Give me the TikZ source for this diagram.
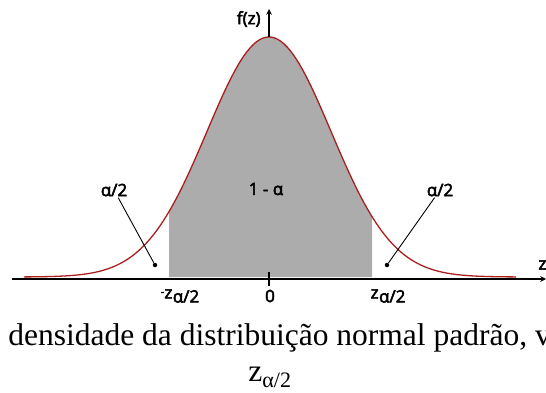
\documentclass[tikz,border=0pt]{standalone}
\usepackage{fontspec}
\setmainfont{Liberation Serif}
\newfontfamily\diagfont[FakeBold=3]{Open Sans}
\usepackage{tikz}
\usetikzlibrary{arrows,positioning,calc}
\definecolor{curvered}{RGB}{170,30,30}
\definecolor{areagray}{RGB}{172,172,172}
\newcommand{\zsub}{z\kern0.5pt\raisebox{-4pt}{α/2}}

\begin{document}
\begin{tikzpicture}[x=1pt, y=1pt, >=stealth, thick]
  \tikzstyle{lbl} = [font=\diagfont\fontsize{17}{19}\selectfont, inner sep=1pt]
  \tikzstyle{pointer} = [draw=black, line width=0.9pt]
  \tikzstyle{dot} = [circle, fill=black, inner sep=0pt, minimum size=4.5pt]
  \tikzstyle{caption} = [font=\fontsize{31.5}{34}\selectfont, inner sep=0pt]

  \useasboundingbox (0,0) rectangle (546,392);
  \clip (0,0) rectangle (546,392);

  % shaded area 1 - alpha
  \fill[areagray] (169,115) -- plot[domain=169:372, samples=80] (\x, {115 + 240*exp(-((\x-269)/62)^2/2)}) -- (372,115) -- cycle;
  % density curve
  \draw[curvered, line width=1.3pt] plot[domain=24:516, samples=160] (\x, {115 + 240*exp(-((\x-269)/62)^2/2)});

  % axes
  \coordinate (xstart) at (12,113);
  \coordinate (xend) at (546,113);
  \coordinate (peak) at (269,355);
  \coordinate (ytip) at (269,383);
  \draw[->, line width=1.5pt] (xstart) -- (xend);
  \draw[->, line width=1.5pt] (peak) -- (ytip);
  \draw[line width=1.2pt] (269,120) -- (269,106);
  \node[lbl, anchor=west] (zlab) at (537,127) {z};
  \node[lbl, left=7pt of ytip, yshift=-10pt] (flab) {f(z)};

  % tick labels
  \node[lbl] (lq) at (180,96) {\raisebox{3pt}{\fontsize{11}{12}\selectfont -}\zsub};
  \node[lbl] (zero) at (270,96) {0};
  \node[lbl] (uq) at (388,96) {\zsub};

  % area labels
  \node[lbl] (center) at (266,203) {1 - α};
  \node[lbl] (ltail) at (114,202) {α/2};
  \node[lbl] (rtail) at (440,202) {α/2};
  \node[dot] (ldot) at (155,127) {};
  \node[dot] (rdot) at (387,127) {};
  \draw[pointer] (ltail) -- (ldot);
  \draw[pointer] (rtail) -- (rdot);

  % caption
  \node[caption, anchor=base west] (cap) at (8,47) {densidade da distribuição normal padrão, v};
  \node[caption, anchor=base] (capz) at (270,11) {z\textsubscript{α/2}};
\end{tikzpicture}
\end{document}
